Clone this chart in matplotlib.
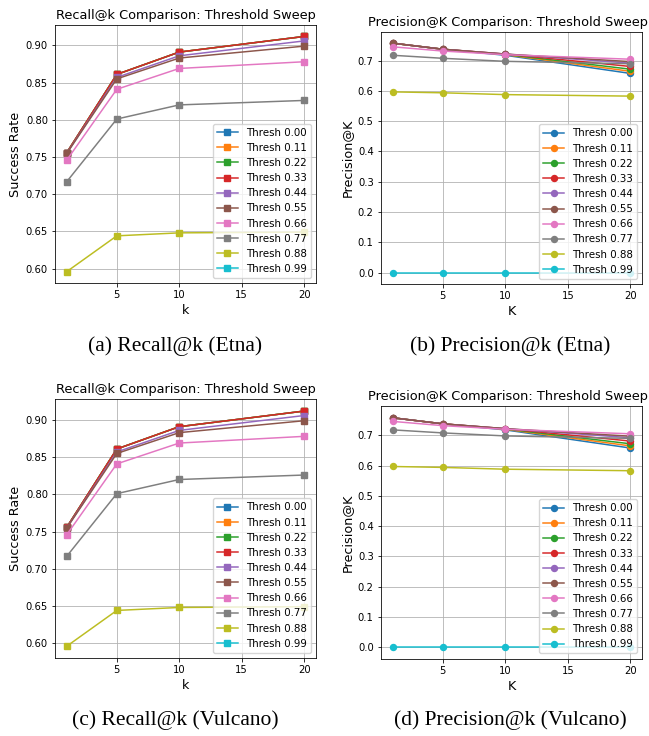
import matplotlib
matplotlib.use("Agg")
import matplotlib.pyplot as plt
import numpy as np

k_values = [1, 5, 10, 20]
thresholds = [0.00, 0.11, 0.22, 0.33, 0.44, 0.55, 0.66, 0.77, 0.88, 0.99]

# Recall@k per threshold (0.99 has no recall values)
recall = [
    [0.756, 0.861, 0.891, 0.912],
    [0.756, 0.861, 0.891, 0.912],
    [0.756, 0.861, 0.891, 0.912],
    [0.756, 0.861, 0.891, 0.912],
    [0.755, 0.857, 0.886, 0.906],
    [0.755, 0.855, 0.883, 0.899],
    [0.746, 0.841, 0.869, 0.878],
    [0.717, 0.801, 0.820, 0.826],
    [0.596, 0.644, 0.648, 0.649],
    [np.nan, np.nan, np.nan, np.nan],
]

# Precision@K per threshold
precision = [
    [0.758, 0.738, 0.718, 0.658],
    [0.758, 0.738, 0.720, 0.665],
    [0.758, 0.738, 0.721, 0.672],
    [0.758, 0.738, 0.722, 0.681],
    [0.758, 0.738, 0.722, 0.692],
    [0.758, 0.738, 0.722, 0.697],
    [0.746, 0.732, 0.720, 0.705],
    [0.718, 0.708, 0.698, 0.690],
    [0.597, 0.594, 0.588, 0.583],
    [0.0, 0.0, 0.0, 0.0],
]

captions = ["(a) Recall@k (Etna)", "(b) Precision@k (Etna)",
            "(c) Recall@k (Vulcano)", "(d) Precision@k (Vulcano)"]

W, H = 649, 736
s = 0.72  # the panels were shrunk when placed in the page
fig = plt.figure(figsize=(W / 100, H / 100), dpi=100)


def add_axes(left, right, top, bottom):
    return fig.add_axes([left / W, 1 - bottom / H, (right - left) / W, (bottom - top) / H])


def draw(ax, data, marker, title, ylabel, xlabel, title_x=0.5):
    for t, vals in zip(thresholds, data):
        ax.plot(k_values, vals, marker=marker, linewidth=1.5 * s, markersize=6 * s,
                label="Thresh %.2f" % t)
    ax.set_title(title, fontsize=9.3, pad=6 * s, x=title_x)
    ax.set_xlabel(xlabel, fontsize=9.2, labelpad=4 * s)
    ax.set_ylabel(ylabel, fontsize=9.2, labelpad=4 * s)
    ax.grid(True, linewidth=0.8 * s)
    ax.tick_params(labelsize=10 * s, length=3.5 * s, width=0.8 * s, pad=3.5 * s)
    for sp in ax.spines.values():
        sp.set_linewidth(0.8 * s)
    ax.legend(loc="lower right", fontsize=7.4, handlelength=2.0, borderpad=0.4,
              labelspacing=0.5)


dy = 374.6
for row in range(2):
    off = row * dy
    ax1 = add_axes(55, 316, 24.7 + off, 283.3 + off)
    draw(ax1, recall, "s", "Recall@k Comparison: Threshold Sweep", "Success Rate", "k")
    ax2 = add_axes(380.7, 642.3, 31.7 + off, 284 + off)
    draw(ax2, precision, "o", "Precision@K Comparison: Threshold Sweep", "Precision@K", "K",
         title_x=0.485)
    fig.text(175 / W, 1 - (346 + off) / H, captions[2 * row], ha="center", va="center",
             family="Liberation Serif", fontsize=15.5)
    fig.text(510 / W, 1 - (346 + off) / H, captions[2 * row + 1], ha="center", va="center",
             family="Liberation Serif", fontsize=15.5)

fig.savefig("out.png", dpi=100)
